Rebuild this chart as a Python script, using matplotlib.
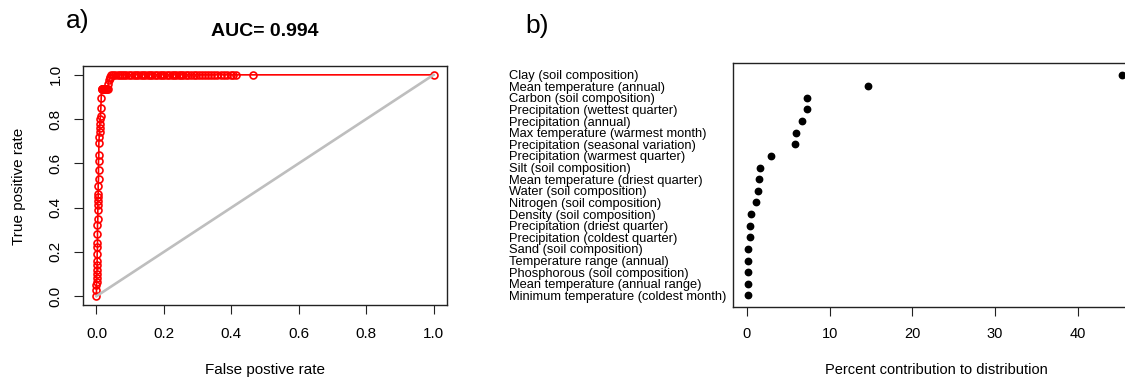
import matplotlib
matplotlib.use('Agg')
import matplotlib.pyplot as plt

plt.rcParams['font.family'] = ['Liberation Sans', 'DejaVu Sans']

# ROC curve: rising part, then the plateau at TPR = 1
rise_fpr = [0.000, 0.000, 0.000, 0.001, 0.001, 0.001, 0.002, 0.002, 0.002,
            0.002, 0.003, 0.003, 0.003, 0.003, 0.004, 0.004, 0.004, 0.004,
            0.005, 0.005, 0.005, 0.006, 0.006, 0.006, 0.007, 0.007, 0.008,
            0.009, 0.010, 0.010, 0.011, 0.012, 0.013, 0.014, 0.015, 0.016,
            0.017, 0.019, 0.021, 0.024, 0.027, 0.030, 0.033, 0.035, 0.037,
            0.039, 0.041]
rise_tpr = [0.000, 0.030, 0.050, 0.065, 0.080, 0.100, 0.120, 0.140, 0.160,
            0.190, 0.220, 0.240, 0.280, 0.320, 0.350, 0.390, 0.410, 0.430,
            0.450, 0.460, 0.500, 0.530, 0.570, 0.610, 0.640, 0.690, 0.720,
            0.740, 0.760, 0.780, 0.800, 0.815, 0.850, 0.895, 0.935, 0.935,
            0.935, 0.935, 0.935, 0.935, 0.935, 0.935, 0.935, 0.960, 0.975,
            0.985, 0.990]
plateau_fpr = [0.044, 0.050, 0.056, 0.063, 0.069, 0.076, 0.083, 0.089, 0.096,
               0.103, 0.110, 0.116, 0.124, 0.131, 0.137, 0.145, 0.152, 0.158,
               0.166, 0.173, 0.180, 0.187, 0.194, 0.201, 0.208, 0.215, 0.223,
               0.230, 0.237, 0.244, 0.251, 0.258, 0.266, 0.273, 0.280, 0.288,
               0.296, 0.305, 0.314, 0.322, 0.331, 0.340, 0.350, 0.359, 0.368,
               0.378, 0.388, 0.398, 0.405, 0.413, 0.464, 1.000]
roc_fpr = rise_fpr + plateau_fpr
roc_tpr = rise_tpr + [1.0] * len(plateau_fpr)
auc = 0.994

# variable contributions, listed top to bottom
variables = [
    "Clay (soil composition)",
    "Mean temperature (annual)",
    "Carbon (soil composition)",
    "Precipitation (wettest quarter)",
    "Precipitation (annual)",
    "Max temperature (warmest month)",
    "Precipitation (seasonal variation)",
    "Precipitation (warmest quarter)",
    "Silt (soil composition)",
    "Mean temperature (driest quarter)",
    "Water (soil composition)",
    "Nitrogen (soil composition)",
    "Density (soil composition)",
    "Precipitation (driest quarter)",
    "Precipitation (coldest quarter)",
    "Sand (soil composition)",
    "Temperature range (annual)",
    "Phosphorous (soil composition)",
    "Mean temperature (annual range)",
    "Minimum temperature (coldest month)",
]
contribution = [45.3, 14.6, 7.3, 7.2, 6.6, 5.9, 5.75, 2.9, 1.6, 1.4,
                1.3, 1.05, 0.5, 0.4, 0.35, 0.12, 0.12, 0.12, 0.12, 0.12]

W, H = 1125, 382
fig = plt.figure(figsize=(W / 100, H / 100), dpi=100)

# a) ROC curve
ax1 = fig.add_axes([83 / W, 1 - 305 / H, 364 / W, 239 / H])
ax1.plot(roc_fpr, roc_tpr, color='red', lw=1.2, marker='o', ms=5.0,
         mfc='none', mec='red', mew=1.2, zorder=2)
ax1.plot([0, 1], [0, 1], color='#bebebe', lw=1.9, zorder=3)
ax1.set_xlim(-0.04, 1.04)
ax1.set_ylim(-0.04, 1.04)
ticks = [0, 0.2, 0.4, 0.6, 0.8, 1.0]
ticklabels = ['0.0', '0.2', '0.4', '0.6', '0.8', '1.0']
ax1.set_xticks(ticks)
ax1.set_xticklabels(ticklabels)
ax1.set_yticks(ticks)
ax1.set_yticklabels(ticklabels, rotation=90, va='center')
ax1.tick_params(length=6.5, width=0.8, labelsize=11, color='#222222')
ax1.tick_params(axis='x', pad=9)
ax1.tick_params(axis='y', pad=8)
for s in ax1.spines.values():
    s.set_linewidth(1.0)
    s.set_color('#222222')

fig.text(265 / W, 1 - 36 / H, 'AUC= %.3f' % auc, ha='center', va='baseline',
         fontsize=14, fontweight='bold')
fig.text(66 / W, 1 - 28 / H, 'a)', ha='left', va='baseline', fontsize=19)
fig.text(265 / W, 1 - 374 / H, 'False postive rate', ha='center',
         va='baseline', fontsize=11)
fig.text(19 / W, 1 - 186 / H, 'True positive rate', ha='center',
         va='center', rotation=90, fontsize=11)

# b) dot chart of contributions
n = len(variables)
ypos = [n - i for i in range(n)]
ax2 = fig.add_axes([733 / W, 1 - 307 / H, 403.5 / W, 244 / H])
ax2.plot(contribution, ypos, 'o', color='black', ms=4.6, zorder=3)
ax2.set_xlim(-1.69, 47.1)
ax2.set_ylim(0, n + 1)
ax2.set_yticks(ypos)
ax2.set_yticklabels(variables, ha='left', fontsize=9.3)
ax2.tick_params(axis='y', length=0, pad=161)
ax2.set_xticks([0, 10, 20, 30, 40])
ax2.tick_params(axis='x', length=6.5, width=0.8, pad=8, labelsize=10.5,
                color='#222222')
for s in ax2.spines.values():
    s.set_linewidth(1.0)
    s.set_color('#222222')

fig.text(525 / W, 1 - 33 / H, 'b)', ha='left', va='baseline', fontsize=19)
fig.text(936 / W, 1 - 374 / H, 'Percent contribution to distribution',
         ha='center', va='baseline', fontsize=10.5)

fig.savefig('out.png', dpi=100)
